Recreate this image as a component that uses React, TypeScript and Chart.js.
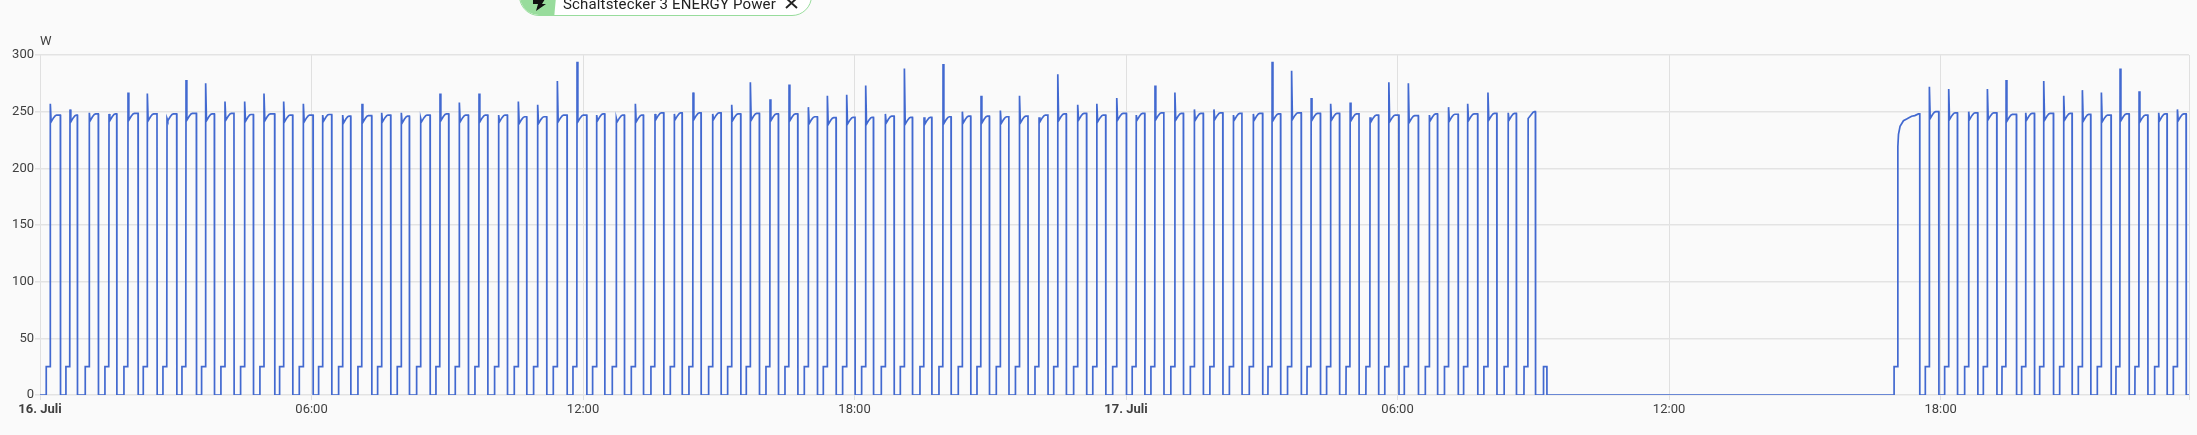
import React, { useEffect, useRef } from "react";
import { Chart, registerables } from "chart.js";

Chart.register(...registerables);

// Hours since 16 July 00:00 at which each switch-on peak occurs
const runOneHours = [
  0.228, 0.663, 1.09, 1.525, 1.945, 2.372, 2.807, 3.227, 3.661, 4.088, 4.523, 4.95, 5.385, 5.82, 6.247, 6.689, 7.116, 7.551, 7.985, 8.413, 8.84, 9.267, 9.702, 10.136,
  10.571, 10.998, 11.433, 11.868, 12.302, 12.737, 13.157, 13.591, 14.019, 14.431, 14.866, 15.286, 15.698, 16.133, 16.553, 16.98, 17.4, 17.827, 18.247, 18.682, 19.102, 19.536, 19.956, 20.383, 20.796,
  21.223, 21.646, 22.078, 22.492, 22.932, 23.355, 23.795, 24.226, 24.64, 25.08, 25.511, 25.943, 26.374, 26.814, 27.228, 27.659, 28.091, 28.522, 28.953, 29.393, 29.808, 30.239, 30.704, 31.127, 31.55, 31.998, 32.446, 32.886,
];
const runOnePeaks = [
  257, 252, 249, 248, 267, 266, 244, 278, 275, 259, 259, 266, 259, 257, 247, 247, 257, 249, 249, 244, 266, 258, 266, 247,
  259, 256, 277, 294, 247, 244, 257, 248, 248, 267, 248, 256, 276, 261, 274, 254, 264, 265, 273, 248, 288, 245, 292, 250, 264,
  251, 264, 245, 283, 256, 257, 262, 247, 273, 267, 252, 252, 247, 248, 294, 286, 262, 257, 258, 245, 276, 275, 247, 254, 257, 267, 249, 244,
];
const runOneHolds = [
  247, 247, 248, 248, 248.5, 248, 248, 248.5, 248, 248.5, 247.5, 248, 247, 247, 247.5, 246, 246.5, 247, 246, 247, 248, 247, 247, 247,
  245.5, 245.5, 247, 247, 248, 247, 247, 249, 249, 249, 249, 248, 248.5, 248, 248, 245.5, 244.7, 245, 245, 246, 245, 245, 245.5, 246, 246,
  245.5, 246, 247, 248, 248.5, 247, 248.5, 248.5, 249, 248.5, 248.5, 249, 248.5, 248.5, 248, 249, 248.5, 248.5, 248, 247, 247, 246.5, 248, 247.7, 248, 248.5, 248.5, 250,
];
const runOneOnMinutes = [
  13.3, 9.7, 11.9, 10.2, 13.3, 12.8, 12.8, 13.7, 11.5, 11.9, 11.5, 14.1, 11.9, 12.8, 11.9, 10.6, 12.8, 11.9, 10.6, 12.4, 11.5, 11.9, 11.5, 11.5,
  11, 11.9, 12.8, 12.8, 10.6, 10.6, 10.6, 11.5, 10.2, 10.6, 11, 11.9, 11.9, 11, 11.5, 11.9, 11.5, 11, 10.2, 11.5, 10.6, 10.2, 10.6, 11, 11,
  11.2, 11.2, 11.7, 11.2, 11.7, 11.7, 12.7, 11.2, 11.7, 11.2, 11.7, 11.7, 11.2, 12.2, 11.2, 12.7, 12.2, 11.7, 11.7, 11.2, 13.2, 13.2, 10.7, 12.7, 13.2, 11.7, 10.7, 9.6,
];

// Standby pulse after the first run, then the long soak at the restart
const pulseHours = [33.225, 33.226, 33.3, 33.301];
const pulseWatts = [0, 25, 25, 0];
const soakHours = [40.972, 40.973, 41.053, 41.056, 41.07, 41.105, 41.18, 41.25, 41.36, 41.43, 41.51, 41.54, 41.541];
const soakWatts = [0, 25, 25, 219, 230, 237, 242, 243.5, 246, 246.5, 248, 248, 0];

const runTwoHours = [41.753, 42.18, 42.622, 43.035, 43.448, 43.882, 44.28, 44.722, 45.134, 45.554, 45.967, 46.387, 46.821, 47.234];
const runTwoPeaks = [272, 270, 250, 270, 278, 249, 277, 264, 269, 267, 288, 268, 249, 252];
const runTwoHolds = [250, 249, 249, 249, 247.6, 248.5, 248.5, 248.5, 247.6, 247, 248, 247, 248, 248];
const runTwoOnMinutes = [12.4, 11.5, 11.9, 12.4, 13.7, 11.5, 12.8, 11, 11, 12.8, 11.9, 11.5, 11, 11.5];

const standbyWatts = 25;
const yTicks = [0, 50, 100, 150, 200, 250, 300];
const xMax = 47.49;
const dayLabels: Record<number, string> = {
  0: "16. Juli", 6: "06:00", 12: "12:00", 18: "18:00",
  24: "17. Juli", 30: "06:00", 36: "12:00", 42: "18:00",
};

type P = { x: number; y: number };

function cycles(hours: number[], peaks: number[], holds: number[], mins: number[]): P[] {
  const out: P[] = [];
  hours.forEach((t, i) => {
    const off = t + mins[i] / 60;
    const hold = holds[i];
    const dip = Math.min(peaks[i], hold - 6);
    out.push(
      { x: t - 0.093, y: 0 },
      { x: t - 0.09, y: standbyWatts },
      { x: t - 0.006, y: standbyWatts },
      { x: t, y: peaks[i] },
      { x: t + 0.018, y: dip },
      { x: t + 0.07, y: hold - 2.5 },
      { x: t + 0.11, y: hold - 0.5 },
      { x: t + 0.14, y: hold },
      { x: off, y: hold },
      { x: off + 0.004, y: 0 }
    );
  });
  return out;
}

const zip = (xs: number[], ys: number[]): P[] => xs.map((x, i) => ({ x, y: ys[i] }));

const series: P[] = [
  { x: 0, y: 0 },
  ...cycles(runOneHours, runOnePeaks, runOneHolds, runOneOnMinutes),
  ...zip(pulseHours, pulseWatts),
  ...zip(soakHours, soakWatts),
  ...cycles(runTwoHours, runTwoPeaks, runTwoHolds, runTwoOnMinutes),
  { x: xMax, y: 0 },
];

export default function App() {
  const ref = useRef<HTMLCanvasElement>(null);
  useEffect(() => {
    document.body.style.margin = "0";
    document.body.style.background = "#fafafa";
    const chart = new Chart(ref.current!, {
      type: "line",
      data: {
        datasets: [
          {
            data: series,
            borderColor: "#4269d0",
            borderWidth: 1.7,
            pointRadius: 0,
            tension: 0,
            fill: false,
            borderJoinStyle: "miter",
          },
        ],
      },
      options: {
        animation: false,
        responsive: false,
        devicePixelRatio: 1,
        parsing: false,
        normalized: true,
        layout: { padding: { top: 55, right: 8, left: 0, bottom: 0 } },
        plugins: { legend: { display: false }, tooltip: { enabled: false } },
        scales: {
          x: {
            type: "linear",
            min: 0,
            max: xMax,
            afterFit: (s: any) => { s.height = 40; },
            afterBuildTicks: (s: any) => {
              s.ticks = [...Object.keys(dayLabels).map((k) => ({ value: Number(k) })), { value: xMax }];
            },
            grid: { color: "#e0e0e0", lineWidth: 1, tickLength: 5, tickColor: "#e0e0e0" },
            border: { display: false },
            ticks: {
              autoSkip: false,
              maxRotation: 0,
              padding: 2,
              color: "#404040",
              font: (c: any) => ({
                family: "Roboto",
                size: 13,
                weight: c.tick && c.tick.value % 24 === 0 ? "bold" : "normal",
              }),
              callback: (v: any) => dayLabels[Number(v)] ?? "",
            },
          },
          y: {
            min: 0,
            max: 300,
            afterFit: (s: any) => { s.width = 40; },
            afterBuildTicks: (s: any) => { s.ticks = yTicks.map((value) => ({ value })); },
            grid: { color: "#e3e3e3", lineWidth: 1.5, tickLength: 5, tickColor: "#e3e3e3" },
            border: { display: false },
            ticks: {
              padding: 1,
              color: "#404040",
              font: { family: "Roboto", size: 13 },
            },
          },
        },
      },
    });
    return () => chart.destroy();
  }, []);

  return (
    <div style={{ position: "relative", width: 2197, height: 435, overflow: "hidden", background: "#fafafa" }}>
      <canvas ref={ref} width={2197} height={435} style={{ display: "block" }} />
      <div style={{ position: "absolute", left: 40, top: 33, font: "13px Roboto", color: "#404040" }}>W</div>
      <div
        style={{
          position: "absolute", left: 519, top: -24, width: 293, height: 40, boxSizing: "border-box",
          border: "1.5px solid #98dc9c", borderRadius: 20, background: "#fff", overflow: "hidden",
        }}
      >
        <div
          style={{
            position: "absolute", left: -2, top: -2, width: 40, height: 44, background: "#98dc9c",
            clipPath: "polygon(0 0, 100% 0, 90% 100%, 0 100%)",
          }}
        />
        <svg width="16" height="36" viewBox="0 0 16 36" style={{ position: "absolute", left: 12, top: 22 }}>
          <path d="M1 0 L13 0 L10 5 L14 5 L4 12 L6 5 L1 5 Z" fill="#111" />
        </svg>
        <div
          style={{
            position: "absolute", left: 43, top: 18, font: "15px Roboto", letterSpacing: 0.15,
            color: "#222", whiteSpace: "nowrap",
          }}
        >
          Schaltstecker 3 ENERGY Power
        </div>
        <svg width="16" height="16" viewBox="0 0 16 16" style={{ position: "absolute", left: 264, top: 17 }}>
          <path d="M2 4 L13 14 M13 4 L2 14" stroke="#222" strokeWidth="1.9" fill="none" />
        </svg>
      </div>
    </div>
  );
}
